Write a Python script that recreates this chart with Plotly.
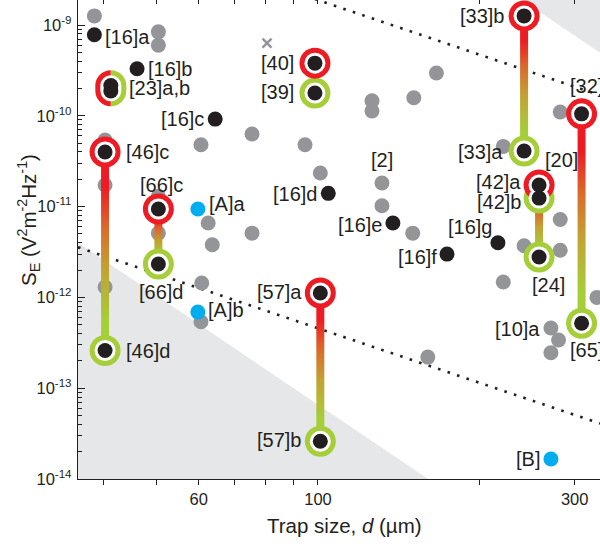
import numpy as np
import plotly.graph_objects as go

# ---------------- data ----------------
# grey: other published trap measurements (trap size d in um, S_E in V^2 m^-2 Hz^-1)
grey_d = [38.4, 50.5, 50.5, 40.2, 40.2, 40.2, 50.5, 50.5, 62.5, 63.6, 75.4, 60.8,
          60.6, 60.6, 75.4, 94.6, 101, 126, 126, 150.7, 166, 131.5, 131.5, 150,
          221, 282, 282, 282, 241.6, 221, 160, 271, 280, 271, 330]
grey_s = [1.26e-9, 8.4e-10, 6.0e-10, 5.4e-11, 1.73e-11, 1.3e-12, 1.3e-11, 5.1e-12,
          6.6e-12, 3.8e-12, 5.1e-12, 1.44e-12, 5.4e-13, 4.8e-11, 6.3e-11, 4.8e-11,
          2.34e-11, 1.46e-10, 1.13e-10, 1.58e-10, 2.96e-10, 1.82e-11, 1.02e-11,
          5.1e-12, 4.6e-11, 1.1e-10, 7.2e-12, 3.3e-12, 3.7e-12, 1.48e-12, 2.2e-13,
          4.6e-13, 3.4e-13, 2.46e-13, 1.0e-12]

# grey cross
cross_d = [80.4]
cross_s = [6.3e-10]

# black: single measurements
black_names = ["[16]a", "[16]b", "[16]c", "[16]d", "[16]e", "[16]f", "[16]g"]
black_d = [38.4, 46.1, 64.4, 104.5, 137.8, 173.7, 216]
black_s = [7.8e-10, 3.3e-10, 9.2e-11, 1.4e-11, 6.6e-12, 3.0e-12, 4.0e-12]

# before (red) / after (green) treatment pairs
pair_top_names = ["[46]c", "[66]c", "[40]", "[57]a", "[33]b", "[32]", "[42]a"]
pair_bot_names = ["[46]d", "[66]d", "[39]", "[57]b", "[33]a", "[65]", "[24]"]
pair_d = [40.2, 50.5, 98.7, 101, 241.6, 309, 257.6]
pair_top = [4.0e-11, 9.4e-12, 3.8e-10, 1.12e-12, 1.26e-9, 1.05e-10, 1.73e-11]
pair_bot = [2.6e-13, 2.33e-12, 1.78e-10, 2.6e-14, 4.1e-11, 5.2e-13, 2.79e-12]

# extra treated point [42]b
extra_green_d = [257.6]
extra_green_s = [1.24e-11]

# [23]a,b: two near-coincident points, half red / half green ring
split_d = 41.2
split_s = [2.15e-10, 1.88e-10]

# blue: this work
cyan_names = ["[A]a", "[A]b", "[B]"]
cyan_d = [59.8, 59.8, 271]
cyan_s = [9.4e-12, 6.9e-13, 1.66e-14]

# scaling guides, value at d = 100 um
d2_upper = 1.88e-9     # dotted, d^-2
d2_lower = 4.57e-13    # dotted, d^-2
d4_upper = 6.2e-8      # shaded, d^-4
d4_lower = 6.6e-14     # shaded, d^-4

x_ticks = [40, 50, 60, 70, 80, 90, 100, 200, 300]
x_ticktext = ["", "", "60", "", "", "", "100", "", "300"]
y_decades = [-14, -13, -12, -11, -10, -9]

# ---------------- style ----------------
INK = "#231F20"
GREY = "#939598"
RED = "#ED1C24"
GREEN = "#A6CE39"
CYAN = "#00AEEF"
SHADE = "#E6E7E8"
FONT = "Liberation Sans, Arial, sans-serif"

W, H = 600, 546
ML, MR, MT, MB = 78, 0, 0, 67
xr = [1.5539, 2.5242]
yr = [-14.0, -8.7247]
px_per_dec_x = (W - ML - MR) / (xr[1] - xr[0])

fig = go.Figure()

dmin, dmax = 10 ** xr[0], 10 ** xr[1]

def power_law(c, k, d):
    return c * (d / 100.0) ** k

# shaded forbidden regions (d^-4)
fig.add_trace(go.Scatter(
    x=[dmin, dmax, dmax, dmin],
    y=[power_law(d4_lower, -4, dmin), power_law(d4_lower, -4, dmax), 1e-17, 1e-17],
    fill="toself", fillcolor=SHADE, mode="none", hoverinfo="skip", showlegend=False))
fig.add_trace(go.Scatter(
    x=[dmin, dmax, dmax, dmin],
    y=[power_law(d4_upper, -4, dmin), power_law(d4_upper, -4, dmax), 1e-5, 1e-5],
    fill="toself", fillcolor=SHADE, mode="none", hoverinfo="skip", showlegend=False))

# dotted d^-2 guides
for c in (d2_upper, d2_lower):
    fig.add_trace(go.Scatter(
        x=[dmin, dmax], y=[power_law(c, -2, dmin), power_law(c, -2, dmax)],
        mode="lines", line=dict(color=INK, width=2.6, dash="2.6px,7.4px"),
        hoverinfo="skip", showlegend=False))

# grey literature points
fig.add_trace(go.Scatter(x=grey_d, y=grey_s, mode="markers",
                         marker=dict(size=15, color=GREY), showlegend=False))
fig.add_trace(go.Scatter(x=cross_d, y=cross_s, mode="markers",
                         marker=dict(size=9, color=GREY, symbol="x-thin",
                                     line=dict(width=2.5, color=GREY)),
                         showlegend=False))

# gradient connectors (red = before, green = after)
grad = [[0.0, GREEN], [0.15, GREEN], [0.42, "#C4A033"], [0.62, "#DA6A2B"],
        [0.82, RED], [1.0, RED]]
half = 10 ** (4.0 / px_per_dec_x)
for d, top, bot in zip(pair_d, pair_top, pair_bot):
    x0, x1 = d / half, d * half
    fig.add_trace(go.Scatter(
        x=[x0, x1, x1, x0, x0], y=[bot, bot, top, top, bot],
        fill="toself", mode="none",
        fillgradient=dict(type="vertical", colorscale=grad),
        hoverinfo="skip", showlegend=False))

# rings: coloured disc, white disc, then the black point
ring_green_d = pair_d + extra_green_d
ring_green_s = pair_bot + extra_green_s
fig.add_trace(go.Scatter(x=ring_green_d, y=ring_green_s, mode="markers",
                         marker=dict(size=31, color=GREEN), showlegend=False))
fig.add_trace(go.Scatter(x=pair_d, y=pair_top, mode="markers",
                         marker=dict(size=31, color=RED), showlegend=False))
fig.add_trace(go.Scatter(x=pair_d + ring_green_d, y=pair_top + ring_green_s,
                         mode="markers", marker=dict(size=21, color="white"),
                         showlegend=False))

all_black_d = black_d + pair_d + pair_d + extra_green_d + [split_d] * len(split_s)
all_black_s = black_s + pair_top + pair_bot + extra_green_s + split_s
fig.add_trace(go.Scatter(x=all_black_d, y=all_black_s, mode="markers",
                         marker=dict(size=15, color=INK), showlegend=False))

fig.add_trace(go.Scatter(x=cyan_d, y=cyan_s, mode="markers",
                         marker=dict(size=15, color=CYAN), showlegend=False))

# half red / half green stadium ring around [23]a,b
r, h, k = 13.0, 2.6, 0.5523
def half_ring(sign):
    s = sign
    return (f"M 0,{h + r} C {s * k * r},{h + r} {s * r},{h + k * r} {s * r},{h} "
            f"L {s * r},{-h} C {s * r},{-h - k * r} {s * k * r},{-h - r} 0,{-h - r}")
split_mid = float(np.sqrt(split_s[0] * split_s[1]))
for sign, col in ((-1, RED), (1, GREEN)):
    fig.add_shape(type="path", xref="x", yref="y", xsizemode="pixel", ysizemode="pixel",
                  xanchor=split_d, yanchor=split_mid, path=half_ring(sign),
                  line=dict(color=col, width=5), layer="above")

# labels: (text, d, S, anchor, x offset px, y offset px)
labels = [
    ("[16]a", black_d[0], black_s[0], "left", 9, -2),
    ("[16]b", black_d[1], black_s[1], "left", 9, 0),
    ("[23]a,b", split_d, split_mid, "left", 16, 0),
    ("[16]c", black_d[2], black_s[2], "right", -9, 0),
    ("[46]c", pair_d[0], pair_top[0], "left", 19, 0),
    ("[46]d", pair_d[0], pair_bot[0], "left", 19, 0),
    ("[66]c", pair_d[1], pair_top[1], "center", 3, 24),
    ("[66]d", pair_d[1], pair_bot[1], "center", 3, -28),
    ("[A]a", cyan_d[0], cyan_s[0], "left", 9, 5),
    ("[A]b", cyan_d[1], cyan_s[1], "left", 8, 2),
    ("[57]a", pair_d[3], pair_top[3], "right", -16, 1),
    ("[57]b", pair_d[3], pair_bot[3], "right", -17, 1),
    ("[40]", pair_d[2], pair_top[2], "right", -19, 0),
    ("[39]", pair_d[2], pair_bot[2], "right", -19, 1),
    ("[16]d", black_d[3], black_s[3], "right", -9, -1),
    ("[2]", grey_d[21], grey_s[21], "center", 0, 23),
    ("[16]e", black_d[4], black_s[4], "right", -9, -2),
    ("[16]f", black_d[5], black_s[5], "right", -8, -3),
    ("[16]g", black_d[6], black_s[6], "right", -4, 16),
    ("[42]a", pair_d[6], pair_top[6], "right", -16, 3),
    ("[42]b", extra_green_d[0], extra_green_s[0], "right", -16, -4),
    ("[20]", pair_d[6], pair_top[6], "center", 22, 25),
    ("[24]", pair_d[6], pair_bot[6], "center", 9, -28),
    ("[10]a", grey_d[31], grey_s[31], "right", -9, -1),
    ("[65]", pair_d[5], pair_bot[5], "center", 5, -27),
    ("[33]b", pair_d[4], pair_top[4], "right", -18, 0),
    ("[33]a", pair_d[4], pair_bot[4], "right", -19, -1),
    ("[32]", pair_d[5], pair_top[5], "center", 5, 28),
    ("[B]", cyan_d[2], cyan_s[2], "right", -9, 0),
]
for text, d, s, anc, dx, dy in labels:
    fig.add_annotation(x=np.log10(d), y=np.log10(s), xref="x", yref="y", text=text,
                       showarrow=False, xanchor=anc, yanchor="middle",
                       xshift=dx, yshift=dy, font=dict(size=20, color=INK, family=FONT))

# axis titles
plot_w, plot_h = W - ML - MR, H - MT - MB
fig.add_annotation(text="Trap size, <i>d</i> (µm)", xref="paper", yref="paper",
                   x=(344 - ML) / plot_w, y=-(525 - (H - MB)) / plot_h,
                   showarrow=False, xanchor="center", yanchor="middle",
                   font=dict(size=20.5, color=INK, family=FONT))
fig.add_annotation(text="S<sub>E</sub> (V<sup>2</sup>m<sup>-2</sup>Hz<sup>-1</sup>)",
                   xref="paper", yref="paper",
                   x=(28 - ML) / plot_w, y=(H - MB - 220) / plot_h, textangle=-90,
                   showarrow=False, xanchor="center", yanchor="middle",
                   font=dict(size=20.5, color=INK, family=FONT))

minor_y = [m * 10.0 ** e for e in range(-14, -8) for m in range(2, 10)]

fig.update_layout(
    width=W, height=H, margin=dict(l=ML, r=MR, t=MT, b=MB),
    paper_bgcolor="white", plot_bgcolor="white", showlegend=False,
    font=dict(family=FONT, color=INK),
    xaxis=dict(type="log", range=xr, tickvals=x_ticks, ticktext=x_ticktext,
               ticks="outside", ticklen=5, tickwidth=1, tickcolor=INK,
               showline=True, linecolor=INK, linewidth=1.3, showgrid=False,
               zeroline=False, tickfont=dict(size=16.5, color=INK)),
    xaxis2=dict(type="log", range=xr, overlaying="x", side="top", anchor="y",
                tickvals=x_ticks, showticklabels=False, ticks="inside", ticklen=4,
                tickwidth=1, tickcolor=INK, showline=False, showgrid=False,
                zeroline=False),
    yaxis=dict(type="log", range=yr, tickvals=[10.0 ** e for e in y_decades],
               ticktext=[f"10<sup>{e}</sup>" for e in y_decades],
               ticks="inside", ticklen=7, tickwidth=1, tickcolor=INK,
               minor=dict(tickvals=minor_y, ticks="inside", ticklen=4, tickwidth=1,
                          tickcolor=INK, showgrid=False),
               showline=True, linecolor=INK, linewidth=1.3, showgrid=False,
               zeroline=False, ticklabelstandoff=2,
               tickfont=dict(size=16.5, color=INK)),
)
# dummy trace so the top tick axis is drawn
fig.add_trace(go.Scatter(x=[dmin], y=[10 ** yr[0]], xaxis="x2", yaxis="y", mode="markers",
                         marker=dict(size=0.1, opacity=0), hoverinfo="skip",
                         showlegend=False))

fig.write_html("out.html")
